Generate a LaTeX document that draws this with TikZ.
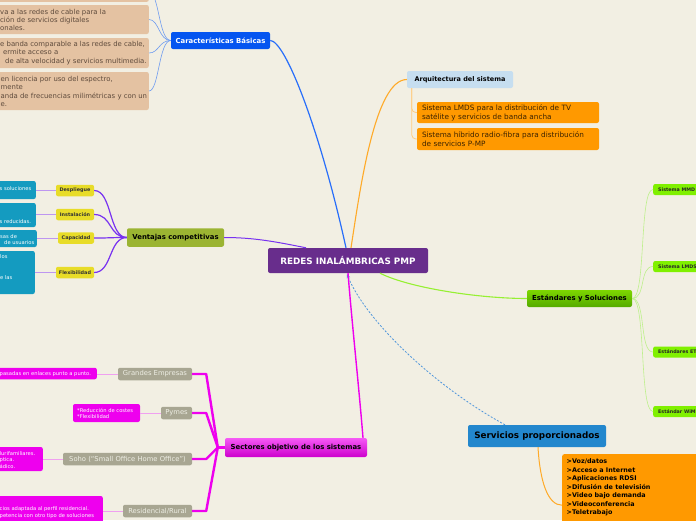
\documentclass[tikz,border=0pt]{standalone}
\usepackage{fontspec}
\setmainfont{DejaVu Sans}
\usetikzlibrary{arrows.meta}
\definecolor{bgc}{RGB}{242,239,227}
\definecolor{croot}{RGB}{104,45,140}
\definecolor{cblue}{RGB}{5,85,240}
\definecolor{cblueedge}{RGB}{40,110,250}
\definecolor{cbluethin}{RGB}{110,155,240}
\definecolor{ctan}{RGB}{228,194,162}
\definecolor{ctantext}{RGB}{95,75,60}
\definecolor{carq}{RGB}{198,222,240}
\definecolor{corange}{RGB}{255,153,0}
\definecolor{corangeedge}{RGB}{255,170,40}
\definecolor{corangethin}{RGB}{255,205,130}
\definecolor{corangetext}{RGB}{60,35,0}
\definecolor{colive}{RGB}{155,180,50}
\definecolor{cyellow}{RGB}{232,220,40}
\definecolor{cteal}{RGB}{20,155,192}
\definecolor{cpurple}{RGB}{120,50,240}
\definecolor{cpurplethin}{RGB}{190,150,240}
\definecolor{cgreentop}{RGB}{125,215,0}
\definecolor{cgreenbot}{RGB}{85,170,0}
\definecolor{cgreenkid}{RGB}{128,240,0}
\definecolor{cgreenedge}{RGB}{150,240,50}
\definecolor{cgreenthin}{RGB}{190,240,140}
\definecolor{cserv}{RGB}{35,135,205}
\definecolor{cdash}{RGB}{80,150,220}
\definecolor{cmag}{RGB}{238,0,238}
\definecolor{cmagtop}{RGB}{245,90,245}
\definecolor{cmagbot}{RGB}{205,0,205}
\definecolor{cmagthin}{RGB}{240,160,240}
\definecolor{cgray}{RGB}{168,166,146}
\definecolor{cgraytext}{RGB}{238,238,228}
\newcommand\myfroot{\fontsize{8.8}{10}\selectfont\bfseries}
\newcommand\myftitle{\fontsize{6.9}{8}\selectfont\bfseries}
\newcommand\myfarq{\fontsize{6.5}{8}\selectfont\bfseries}
\newcommand\myfserv{\fontsize{8.8}{10}\selectfont\bfseries}
\newcommand\myfsmall{\fontsize{6.9}{8.4}\selectfont}
\newcommand\myftiny{\fontsize{5.2}{6.6}\selectfont}
\newcommand\myfyel{\fontsize{4.9}{6}\selectfont\bfseries}
\newcommand\myfgreen{\fontsize{4.8}{6}\selectfont\bfseries}
\newcommand\myfgray{\fontsize{6.8}{8}\selectfont}
\newcommand\myforange{\fontsize{7.3}{9}\selectfont}
\newcommand\myflist{\fontsize{6.4}{8.5}\selectfont\bfseries}
\begin{document}
\begin{tikzpicture}[x=1pt,y=-1pt,
  box/.style={rectangle, rounded corners=2pt, inner sep=0pt, align=center},
  txt/.style={inner sep=0pt, align=left},
  tanbox/.style={box, fill=ctan},
  tantext/.style={txt, font=\myfsmall, text=ctantext},
  tealbox/.style={box, fill=cteal},
  tealtext/.style={txt, font=\myftiny, text=white},
  yelbox/.style={box, fill=cyellow, font=\myfyel, text=black!80, minimum height=11.5},
  graybox/.style={box, fill=cgray, font=\myfgray, text=cgraytext, minimum height=12.5},
  magbox/.style={box, fill=cmag},
  magtext/.style={txt, font=\myftiny, text=white},
  greenbox/.style={box, fill=cgreenkid, minimum width=60, minimum height=11, anchor=west},
  greentext/.style={txt, font=\myfgreen, text=black!85, anchor=west},
  orbox/.style={box, fill=corange, text=corangetext, font=\myforange, text width=172, inner xsep=5, align=left},
  kidblue/.style={draw=cbluethin, line width=0.6},
  kidpurple/.style={draw=cpurple, line width=1.2},
  thinpurple/.style={draw=cpurplethin, line width=0.7},
  kidgreen/.style={draw=cgreenthin, line width=0.6},
  kidmag/.style={draw=cmag, line width=2.4, line join=round},
  thinmag/.style={draw=cmagthin, line width=0.7}
]
\useasboundingbox (0,0) rectangle (696,520);
\fill[bgc] (0,0) rectangle (696,520);

% ---------- central node ----------
\node[box, fill=croot, text=white, font=\myfroot, minimum width=160, minimum height=25] (root) at (348,260.5) {REDES INAL\'AMBRICAS PMP};

% ---------- Caracteristicas basicas ----------
\node[box, fill=cblue, text=white, font=\myftitle, minimum width=99, minimum height=17] (carac) at (220.5,40.5) {Caracter\'isticas B\'asicas};
\node[tanbox, minimum width=200, minimum height=20, anchor=south east] (tan0) at (149,2) {};
\node[tanbox, minimum width=200, minimum height=29, anchor=east] (tan1) at (149,19.5) {};
\node[tantext, anchor=west] (tan1t) at (0,20) {va a las redes de cable para la\\ci\'on de servicios digitales\\onales.};
\node[tanbox, minimum width=200, minimum height=30, anchor=east] (tan2) at (149,53) {};
\node[tantext, anchor=west] (tan2t) at (0,53) {e banda comparable a las redes de cable,\\\hspace*{3pt}ermite acceso a\\\hspace*{5pt}de alta velocidad y servicios multimedia.};
\node[tanbox, minimum width=200, minimum height=38, anchor=east] (tan3) at (149,91) {};
\node[tantext, anchor=west] (tan3t) at (0.5,91.5) {en licencia por uso del espectro,\\mente\\anda de frecuencias milim\'etricas y con un\\e.};
\foreach \t in {tan0,tan1,tan2,tan3}
  \draw[kidblue] (carac.west) .. controls +(-12,0) and +(10,0) .. (\t.east);
\draw[cblueedge, line width=1.2] (carac.east) .. controls +(15,0) and +(-26,-118) .. ([xshift=-2pt]root.north);

% ---------- Arquitectura ----------
\node[box, fill=carq, text=black, font=\myfarq, minimum width=106, minimum height=17] (arq) at (460,79.5) {Arquitectura del sistema};
\node[orbox, minimum height=21] (a1) at (508,112.5) {Sistema LMDS para la distribuci\'on de TV\\sat\'elite y servicios de banda ancha};
\node[orbox, minimum height=22] (a2) at (508,139) {Sistema h\'ibrido radio-fibra para distribuci\'on\\de servicios P-MP};
\draw[corangethin, line width=0.8, rounded corners=4] ([xshift=5pt]arq.south west) |- (a1.west);
\draw[corangethin, line width=0.8, rounded corners=4] ([xshift=5pt]arq.south west) |- (a2.west);
\draw[corangeedge, line width=1.1] ([xshift=3pt]root.north) .. controls +(9,-58) and +(-32,0) .. (arq.west);

% ---------- Ventajas competitivas ----------
\node[box, fill=colive, text=black, font=\myftitle, minimum width=97, minimum height=18.5] (vent) at (175.5,237.5) {Ventajas competitivas};
\node[yelbox, minimum width=38] (y1) at (75,190.5) {Despliegue};
\node[yelbox, minimum width=38] (y2) at (75,214.5) {Instalaci\'on};
\node[yelbox, minimum width=36] (y3) at (76,238) {Capacidad};
\node[yelbox, minimum width=38] (y4) at (75,272.5) {Flexibilidad};
\node[tealbox, minimum width=80, minimum height=18, anchor=east] (te1) at (36,190) {};
\node[tealtext, anchor=west] (te1t) at (-0.5,188.5) {s soluciones};
\node[tealbox, minimum width=80, minimum height=24, anchor=east] (te2) at (36,215) {};
\node[tealtext, anchor=west] (te2t) at (-0.5,222) {s reducidas.};
\node[tealbox, minimum width=80, minimum height=17, anchor=east] (te3) at (37,238.5) {};
\node[tealtext, anchor=west] (te3t) at (0,239.5) {sas de\\\hspace*{4pt}de usuarios};
\node[tealbox, minimum width=80, minimum height=43, anchor=east] (te4) at (35,272.5) {};
\node[tealtext, anchor=west] (te4a) at (0,256.5) {los};
\node[tealtext, anchor=west] (te4b) at (0,277.5) {e las};
\foreach \y/\t in {y1/te1,y2/te2,y3/te3,y4/te4}{
  \draw[kidpurple] (vent.west) .. controls +(-18,0) and +(18,0) .. (\y.east);
  \draw[thinpurple] (\y.west) -- (\t.east |- \y.west);
}
\draw[cpurple, line width=1] (vent.east) .. controls +(30,0) and +(-30,-6) .. ([xshift=-42pt]root.north);

% ---------- Estandares y soluciones ----------
\node[box, top color=cgreentop, bottom color=cgreenbot, text=black, font=\myftitle, minimum width=105, minimum height=17] (est) at (579.5,298.5) {Est\'andares y Soluciones};
\node[greenbox] (g1) at (653,189.5) {};
\node[greentext] (g1t) at (658,189.5) {Sistema MMD};
\node[greenbox] (g2) at (653,266.5) {};
\node[greentext] (g2t) at (658,266.5) {Sistema LMDS};
\node[greenbox] (g3) at (653,352) {};
\node[greentext] (g3t) at (658,352) {Est\'andares ET};
\node[greenbox] (g4) at (653,411.5) {};
\node[greentext] (g4t) at (658,411.5) {Est\'andar WiM};
\foreach \g in {g1,g2,g3,g4}
  \draw[kidgreen] (est.east) .. controls +(14,0) and +(-14,0) .. (\g.west);
\draw[cgreenedge, line width=1.1] ([xshift=32pt]root.south) .. controls +(30,15) and +(-47,0) .. (est.west);

% ---------- Servicios proporcionados ----------
\node[box, fill=cserv, text=black, font=\myfserv, minimum width=138, minimum height=22] (serv) at (537,436) {Servicios proporcionados};
\node[box, fill=corange, minimum width=150, minimum height=102, anchor=north west] (slist) at (562,454) {};
\node[txt, font=\myflist, text=black, anchor=north west] (slistt) at (566.5,458.5) {>Voz/datos\\>Acceso a Internet\\>Aplicaciones RDSI\\>Difusi\'on de televisi\'on\\>Video bajo demanda\\>Videoconferencia\\>Teletrabajo};
\draw[corangeedge, line width=1] ([xshift=1pt]serv.south) .. controls +(2,35) and +(-14,0) .. (slist.west);
\draw[cdash, line width=0.8, dash pattern=on 2pt off 1.6pt, -{Stealth[length=4pt,width=3.5pt]}] ([xshift=-32pt]serv.north) .. controls +(-73,-40) and +(18,45) .. ([xshift=-1pt,yshift=-1pt]root.south);

% ---------- Sectores objetivo ----------
\node[box, top color=cmagtop, bottom color=cmagbot, text=black, font=\myftitle, minimum width=142, minimum height=19] (sect) at (296,447.5) {Sectores objetivo de los sistemas};
\draw[cmag, line width=1.4] (root.south) .. controls +(4,50) and +(-4,-50) .. ([xshift=67pt]sect.north);
\node[graybox, minimum width=74] (s1) at (155,374) {Grandes Empresas};
\node[graybox, minimum width=31] (s2) at (176.5,413) {Pymes};
\node[graybox, minimum width=129] (s3) at (127.5,459) {Soho (“Small Office Home Office”)};
\node[graybox, minimum width=69] (s4) at (157.5,511) {Residencial/Rural};
\node[magbox, minimum width=120, minimum height=11.5, anchor=east] (m1) at (97,373.5) {};
\node[magtext, anchor=west] (m1t) at (-0.5,374) {pasadas en enlaces punto a punto.};
\node[magbox, minimum width=67, minimum height=18] (m2) at (106.5,413) {};
\node[magtext, anchor=west] (m2t) at (77,413.5) {*Reducci\'on de costes\\*Flexibilidad};
\node[magbox, minimum width=80, minimum height=24, anchor=east] (m3) at (43,459) {};
\node[magtext, anchor=west] (m3t) at (-0.5,460) {lurifamiliares.\\ptica.\\\'adico.};
\node[magbox, minimum width=140, minimum height=28, anchor=east] (m4) at (103,510) {};
\node[magtext, anchor=west] (m4t) at (-0.5,512.5) {cios adaptada al perfil residencial.\\petencia con otro tipo de soluciones};
\foreach \s/\m in {s1/m1,s2/m2,s3/m3,s4/m4}{
  \draw[kidmag] (sect.west) -- ++(-7,0) -- ([xshift=14pt]\s.east) -- (\s.east);
  \draw[thinmag] (\s.west) -- (\m.east |- \s.west);
}
\end{tikzpicture}
\end{document}
